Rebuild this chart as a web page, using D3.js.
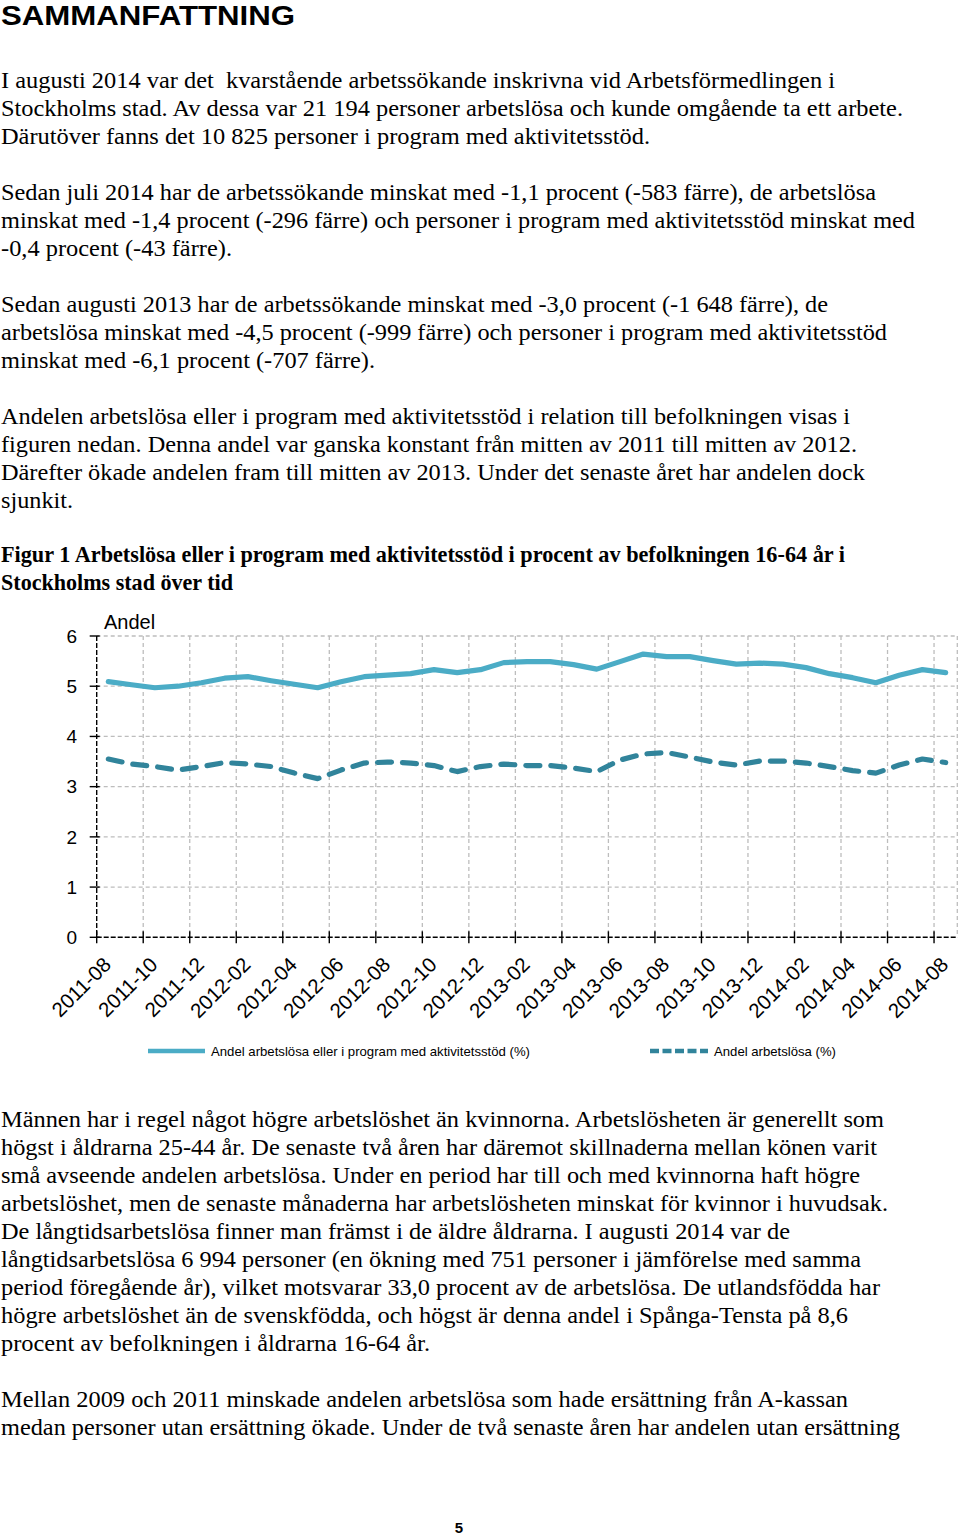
<!DOCTYPE html>
<html><head><meta charset="utf-8">
<script src="https://cdn.jsdelivr.net/npm/d3@7"></script>
<style>html,body{margin:0;padding:0;background:#fff;}svg{display:block;}
.body-text{font-family:"Liberation Serif","Times New Roman",Times,serif;white-space:pre;}
.sans{font-family:"Liberation Sans",Arial,Helvetica,sans-serif;}
</style>
</head><body>
<script>
// ---- chart data ----
const months = ["2011-08","2011-09","2011-10","2011-11","2011-12","2012-01","2012-02","2012-03","2012-04","2012-05","2012-06","2012-07","2012-08","2012-09","2012-10","2012-11","2012-12","2013-01","2013-02","2013-03","2013-04","2013-05","2013-06","2013-07","2013-08","2013-09","2013-10","2013-11","2013-12","2014-01","2014-02","2014-03","2014-04","2014-05","2014-06","2014-07","2014-08"];
const andelProgram = [5.09,5.03,4.97,5.00,5.07,5.16,5.19,5.11,5.04,4.97,5.09,5.19,5.22,5.25,5.33,5.27,5.33,5.47,5.49,5.49,5.43,5.34,5.49,5.64,5.59,5.59,5.51,5.44,5.46,5.44,5.37,5.25,5.17,5.07,5.22,5.33,5.27];
const andelArbetslosa = [3.55,3.45,3.40,3.33,3.40,3.48,3.45,3.40,3.27,3.16,3.33,3.47,3.49,3.47,3.42,3.30,3.40,3.45,3.42,3.42,3.37,3.30,3.53,3.65,3.68,3.59,3.49,3.43,3.51,3.51,3.47,3.40,3.32,3.27,3.43,3.55,3.48];
const yTicks = [0,1,2,3,4,5,6];
const seriesNames = ["Andel arbetslösa eller i program med aktivitetsstöd (%)","Andel arbetslösa (%)"];

// ---- page text ----
const para1 = [["I augusti 2014 var det  kvarstående arbetssökande inskrivna vid Arbetsförmedlingen i",835],["Stockholms stad. Av dessa var 21 194 personer arbetslösa och kunde omgående ta ett arbete.",903],["Därutöver fanns det 10 825 personer i program med aktivitetsstöd.",650]];
const para2 = [["Sedan juli 2014 har de arbetssökande minskat med -1,1 procent (-583 färre), de arbetslösa",876],["minskat med -1,4 procent (-296 färre) och personer i program med aktivitetsstöd minskat med",915],["-0,4 procent (-43 färre).",232]];
const para3 = [["Sedan augusti 2013 har de arbetssökande minskat med -3,0 procent (-1 648 färre), de",828],["arbetslösa minskat med -4,5 procent (-999 färre) och personer i program med aktivitetsstöd",887],["minskat med -6,1 procent (-707 färre).",375]];
const para4 = [["Andelen arbetslösa eller i program med aktivitetsstöd i relation till befolkningen visas i",850],["figuren nedan. Denna andel var ganska konstant från mitten av 2011 till mitten av 2012.",857],["Därefter ökade andelen fram till mitten av 2013. Under det senaste året har andelen dock",865],["sjunkit.",73]];
const caption = [["Figur 1 Arbetslösa eller i program med aktivitetsstöd i procent av befolkningen 16-64 år i",845],["Stockholms stad över tid",233]];
const para5 = [["Männen har i regel något högre arbetslöshet än kvinnorna. Arbetslösheten är generellt som",884],["högst i åldrarna 25-44 år. De senaste två åren har däremot skillnaderna mellan könen varit",877],["små avseende andelen arbetslösa. Under en period har till och med kvinnorna haft högre",860],["arbetslöshet, men de senaste månaderna har arbetslösheten minskat för kvinnor i huvudsak.",888],["De långtidsarbetslösa finner man främst i de äldre åldrarna. I augusti 2014 var de",790],["långtidsarbetslösa 6 994 personer (en ökning med 751 personer i jämförelse med samma",861],["period föregående år), vilket motsvarar 33,0 procent av de arbetslösa. De utlandsfödda har",880],["högre arbetslöshet än de svenskfödda, och högst är denna andel i Spånga-Tensta på 8,6",848],["procent av befolkningen i åldrarna 16-64 år.",430]];
const para6 = [["Mellan 2009 och 2011 minskade andelen arbetslösa som hade ersättning från A-kassan",848],["medan personer utan ersättning ökade. Under de två senaste åren har andelen utan ersättning",900]];

const W = 960, H = 1538;
const svg = d3.select("body").append("svg").attr("width", W).attr("height", H);
svg.append("rect").attr("width", W).attr("height", H).attr("fill", "#fff");

svg.append("text").attr("class", "sans").attr("x", 1).attr("y", 25).attr("font-weight", "bold")
  .attr("font-size", 28).attr("textLength", 294).attr("lengthAdjust", "spacingAndGlyphs").attr("fill", "#000").text("SAMMANFATTNING");

function para(lines, y0, bold) {
  lines.forEach((l, i) => {
    svg.append("text").attr("class", "body-text").attr("x", 1).attr("y", y0 + i * 28)
      .attr("font-size", 24)
      .attr("font-weight", bold ? "bold" : "normal")
      .attr("textLength", l[1] - 1).attr("lengthAdjust", "spacingAndGlyphs")
      .attr("fill", "#000").text(l[0]);
  });
}
para(para1, 88);
para(para2, 200);
para(para3, 312);
para(para4, 424);
para(caption, 562, true);
para(para5, 1127);
para(para6, 1407);

// ---- chart ----
const pLeft = 96.7, pRight = 957.3, pTop = 636, pBottom = 937.3;
const x = d3.scaleBand().domain(months).range([pLeft, pRight]).padding(0);
const y = d3.scaleLinear().domain([0, 6]).range([pBottom, pTop]);
const bw = x.bandwidth();
const g = svg.append("g");

g.selectAll(".hg").data(yTicks.filter(d => d > 0)).enter().append("line")
  .attr("x1", pLeft).attr("x2", pRight).attr("y1", d => y(d)).attr("y2", d => y(d))
  .attr("stroke", "#bdbdbd").attr("stroke-width", 1.3).attr("stroke-dasharray", "4,3");
const tickMonths = months.filter((m, i) => i % 2 === 0);
g.selectAll(".vg").data(tickMonths.slice(1)).enter().append("line")
  .attr("x1", d => x(d)).attr("x2", d => x(d)).attr("y1", pTop).attr("y2", pBottom)
  .attr("stroke", "#bdbdbd").attr("stroke-width", 1.3).attr("stroke-dasharray", "4,3");
g.append("line").attr("x1", pRight).attr("x2", pRight).attr("y1", pTop).attr("y2", pBottom)
  .attr("stroke", "#bdbdbd").attr("stroke-width", 1.3).attr("stroke-dasharray", "4,3");

g.append("line").attr("x1", pLeft).attr("x2", pLeft).attr("y1", pTop).attr("y2", pBottom)
  .attr("stroke", "#000").attr("stroke-width", 1.4).attr("stroke-dasharray", "5,2");
g.append("line").attr("x1", pLeft).attr("x2", pRight).attr("y1", pBottom).attr("y2", pBottom)
  .attr("stroke", "#000").attr("stroke-width", 1.4).attr("stroke-dasharray", "5,2");
g.selectAll(".yt").data(yTicks).enter().append("line")
  .attr("x1", pLeft - 7).attr("x2", pLeft + 3).attr("y1", d => y(d)).attr("y2", d => y(d))
  .attr("stroke", "#000").attr("stroke-width", 1.4);
g.selectAll(".ytl").data(yTicks).enter().append("text").attr("class", "sans")
  .attr("x", 77).attr("y", d => y(d)).attr("dy", "0.36em").attr("text-anchor", "end")
  .attr("font-size", 19).attr("fill", "#000").text(d => d);
g.selectAll(".xt").data(tickMonths).enter().append("line")
  .attr("x1", d => x(d)).attr("x2", d => x(d)).attr("y1", pBottom - 6).attr("y2", pBottom + 6)
  .attr("stroke", "#000").attr("stroke-width", 1.4);
g.selectAll(".xtl").data(tickMonths).enter().append("text").attr("class", "sans")
  .attr("transform", d => `translate(${x(d) + bw / 2 + 4},966) rotate(-45)`)
  .attr("text-anchor", "end").attr("font-size", 20.5).attr("fill", "#000").text(d => d);

g.append("text").attr("class", "sans").attr("x", 104).attr("y", 629).attr("font-size", 20).attr("fill", "#000").text("Andel");

const line = d3.line().x((d, i) => x(months[i]) + bw / 2).y(d => y(d));
g.append("path").datum(andelProgram).attr("d", line).attr("fill", "none")
  .attr("stroke", "#4bacc6").attr("stroke-width", 5.2).attr("stroke-linejoin", "round").attr("stroke-linecap", "round");
g.append("path").datum(andelArbetslosa).attr("d", line).attr("fill", "none")
  .attr("stroke", "#31849b").attr("stroke-width", 5.2).attr("stroke-dasharray", "14,11")
  .attr("stroke-linejoin", "round").attr("stroke-linecap", "round");

const lg = svg.append("g");
lg.append("line").attr("x1", 148).attr("x2", 205).attr("y1", 1051).attr("y2", 1051)
  .attr("stroke", "#4bacc6").attr("stroke-width", 4.5);
lg.append("text").attr("class", "sans").attr("x", 211).attr("y", 1056).attr("font-size", 13)
  .attr("textLength", 319).attr("lengthAdjust", "spacingAndGlyphs").attr("fill", "#000").text(seriesNames[0]);
lg.append("line").attr("x1", 650).attr("x2", 708).attr("y1", 1051).attr("y2", 1051)
  .attr("stroke", "#31849b").attr("stroke-width", 4.5).attr("stroke-dasharray", "9,3.5");
lg.append("text").attr("class", "sans").attr("x", 714).attr("y", 1056).attr("font-size", 13)
  .attr("textLength", 122).attr("lengthAdjust", "spacingAndGlyphs").attr("fill", "#000").text(seriesNames[1]);

svg.append("text").attr("x", 459).attr("y", 1533).attr("text-anchor", "middle")
  .style("font-family", "'Liberation Sans Narrow','Liberation Sans',Arial,sans-serif").attr("font-weight", "bold")
  .attr("font-size", 15).attr("fill", "#000").text("5");
</script>
</body></html>
